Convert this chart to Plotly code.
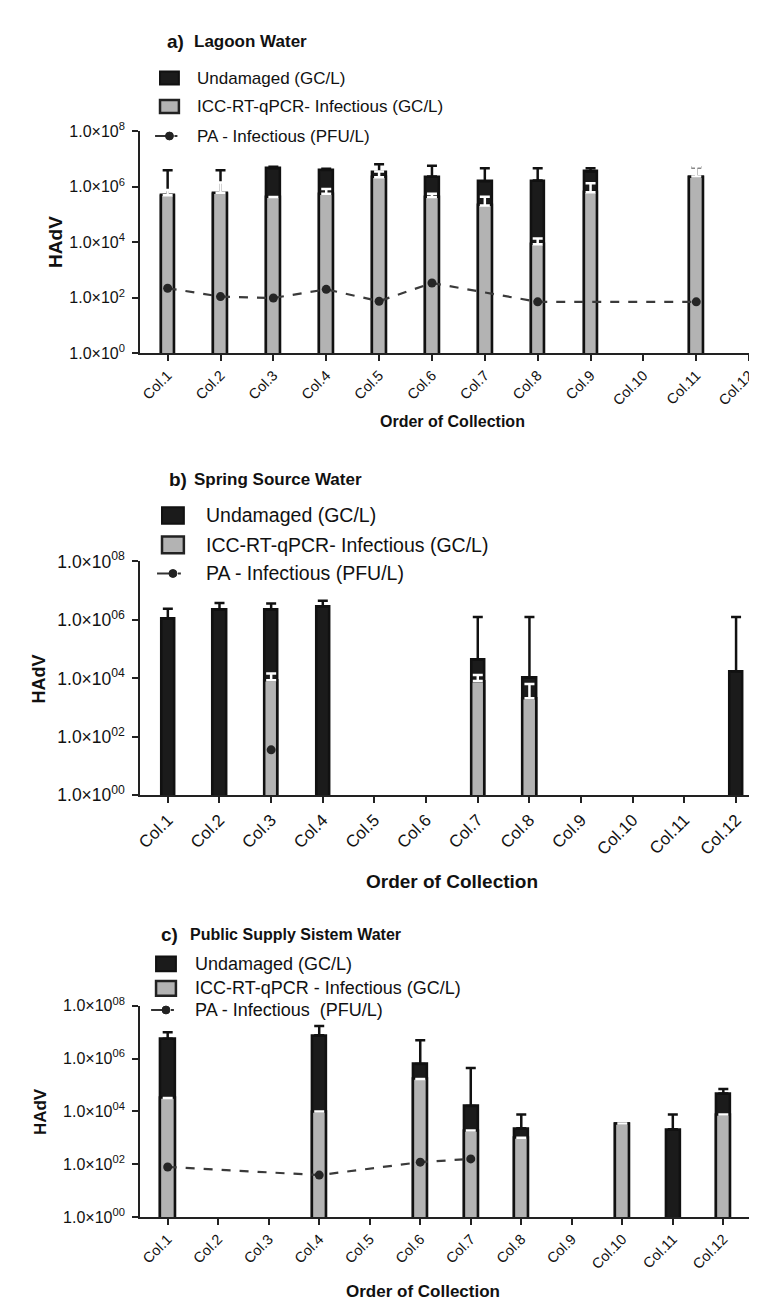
import plotly.graph_objects as go

# ---------------- data ----------------
categories = ["Col.1", "Col.2", "Col.3", "Col.4", "Col.5", "Col.6",
              "Col.7", "Col.8", "Col.9", "Col.10", "Col.11", "Col.12"]
y_tick_vals = [1, 1e2, 1e4, 1e6, 1e8]
y_tick_text_a = ["1.0×10<sup>0</sup>", "1.0×10<sup>2</sup>", "1.0×10<sup>4</sup>",
                 "1.0×10<sup>6</sup>", "1.0×10<sup>8</sup>"]
y_tick_text_bc = ["1.0×10<sup>00</sup>", "1.0×10<sup>02</sup>", "1.0×10<sup>04</sup>",
                  "1.0×10<sup>06</sup>", "1.0×10<sup>08</sup>"]

# a) Lagoon Water
a_undamaged = [4.5e5, 5.5e5, 4.6e6, 4.0e6, 3.3e6, 2.3e6, 1.56e6, 1.65e6, 3.5e6, None, 2.2e6, None]
a_undamaged_upper = [3.9e6, 3.9e6, 5.2e6, 4.4e6, 6.4e6, 5.6e6, 4.6e6, 4.6e6, 4.6e6, None, 5.0e6, None]
a_infectious = [4.9e5, 6.0e5, 4.2e5, 5.6e5, 2.2e6, 4.2e5, 2.1e5, 8.5e3, 6.3e5, None, 2.3e6, None]
a_infectious_upper = [7.5e5, 1.4e6, None, 8.3e5, 3.5e6, 5.6e5, 4.3e5, 1.35e4, 1.33e6, None, 5.3e6, None]
a_pa = [220, 110, 98, 200, 75, 340, None, 71, None, None, 71, None]

# b) Spring Source Water
b_undamaged = [1.1e6, 2.2e6, 2.2e6, 2.9e6, None, None, 4.4e4, 1.05e4, None, None, None, 1.75e4]
b_undamaged_upper = [2.4e6, 3.8e6, 3.6e6, 4.5e6, None, None, 1.25e6, 1.25e6, None, None, None, 1.25e6]
b_infectious = [None, None, 8.7e3, None, None, None, 8.1e3, 2.1e3, None, None, None, None]
b_infectious_upper = [None, None, 1.46e4, None, None, None, 1.3e4, 6.4e3, None, None, None, None]
b_pa = [None, None, 36, None, None, None, None, None, None, None, None, None]

# c) Public Supply Sistem Water
c_undamaged = [5.7e6, None, None, 7.6e6, None, 6.3e5, 1.6e4, 2.3e3, None, 3.5e3, 2.1e3, 4.8e4]
c_undamaged_upper = [1.0e7, None, None, 1.7e7, None, 4.9e6, 4.4e5, 7.6e3, None, None, 7.6e3, 7.0e4]
c_infectious = [3.2e4, None, None, 1.0e4, None, 1.7e5, 1.9e3, 1.0e3, None, 3.5e3, None, 7.6e3]
c_infectious_upper = [None] * 12
c_pa = [79, None, None, 39, None, 120, 160, None, None, None, None, None]

legend_a = ["Undamaged (GC/L)", "ICC-RT-qPCR- Infectious (GC/L)", "PA - Infectious (PFU/L)"]
legend_b = ["Undamaged (GC/L)", "ICC-RT-qPCR- Infectious (GC/L)", "PA - Infectious (PFU/L)"]
legend_c = ["Undamaged (GC/L)", "ICC-RT-qPCR - Infectious (GC/L)", "PA - Infectious  (PFU/L)"]

# ---------------- layout helpers ----------------
W, H = 757, 1302
FONT = "Arial, Liberation Sans, Helvetica, sans-serif"
BLACK = "#1b1b1b"
GRAY = "#b3b3b3"
AX = "#222222"


def fx(px):
    return px / W


def fy(py):
    return 1 - py / H


def plus(vals, uppers):
    return [(u - v) if (u is not None and v is not None) else None for v, u in zip(vals, uppers)]


panels = [
    dict(key="", und=a_undamaged, und_up=a_undamaged_upper, inf=a_infectious, inf_up=a_infectious_upper,
         pa=a_pa, xdom=(128, 757), xr=(-0.52, 11.3), ytop=113, ybot=339, ticktext=y_tick_text_a,
         ytf=16, xtf=14.5, bw=0.26,
         title=("a)", "Lagoon Water", 153, 180, 22, 19, 17),
         legend=legend_a, leg=dict(sx0=148, sx1=167, rows=(59, 88, 118), tx=183, fs=17, sh=13),
         ytitle=(42, 226, 19), xtitle=(442, 408, 16)),
    dict(key="2", und=b_undamaged, und_up=b_undamaged_upper, inf=b_infectious, inf_up=b_infectious_upper,
         pa=b_pa, xdom=(128.3, 757), xr=(-0.53, 11.56), ytop=550.7, ybot=788.7, ticktext=y_tick_text_bc,
         ytf=17.5, xtf=17, bw=0.26,
         title=("b)", "Spring Source Water", 155, 180, 467, 19, 17),
         legend=legend_b, leg=dict(sx0=150, sx1=172, rows=(504, 534, 563), tx=192, fs=19.5, sh=17),
         ytitle=(26, 670, 18), xtitle=(442, 876, 19)),
    dict(key="3", und=c_undamaged, und_up=c_undamaged_upper, inf=c_infectious, inf_up=c_infectious_upper,
         pa=c_pa, xdom=(128, 742), xr=(-0.545, 11.53), ytop=1002.7, ybot=1217.7, ticktext=y_tick_text_bc,
         ytf=16, xtf=14.5, bw=0.28,
         title=("c)", "Public Supply Sistem Water", 147, 176, 930, 19, 16),
         legend=legend_c, leg=dict(sx0=144, sx1=164, rows=(960, 985, 1007), tx=181, fs=18, sh=15),
         ytitle=(27, 1110, 17), xtitle=(413, 1293, 17)),
]

fig = go.Figure()
shapes = []
annotations = []

for p in panels:
    k = p["key"]
    xa = "x" + k
    ya = "y" + k
    fig.add_trace(go.Bar(
        x=categories, y=p["und"], xaxis=xa, yaxis=ya, width=p["bw"],
        marker=dict(color=BLACK, line=dict(color="#111111", width=2.5)),
        error_y=dict(type="data", array=plus(p["und"], p["und_up"]), arrayminus=[0] * 12,
                     symmetric=False, color="#111111", thickness=2.5, width=5),
        showlegend=False, name=p["legend"][0]))
    fig.add_trace(go.Bar(
        x=categories, y=p["inf"], xaxis=xa, yaxis=ya, width=p["bw"],
        marker=dict(color=GRAY, line=dict(color="#111111", width=2.5)),
        error_y=dict(type="data", array=plus(p["inf"], p["inf_up"]), arrayminus=[0] * 12,
                     symmetric=False, color="#ffffff", thickness=2.5, width=5),
        showlegend=False, name=p["legend"][1]))
    fig.add_trace(go.Scatter(
        x=categories, y=p["pa"], xaxis=xa, yaxis=ya, mode="lines+markers", connectgaps=True,
        line=dict(color="#3a3a3a", width=2.2, dash="dash"),
        marker=dict(color="#262626", size=9),
        showlegend=False, name=p["legend"][2]))

    xname = "xaxis" + k
    yname = "yaxis" + k
    fig.update_layout(**{
        xname: dict(domain=[fx(p["xdom"][0]), fx(p["xdom"][1])], anchor=ya, type="category",
                    categoryorder="array", categoryarray=categories, range=list(p["xr"]),
                    showline=True, linecolor=AX, linewidth=2, ticks="outside", ticklen=6,
                    tickwidth=2, tickcolor=AX, tickangle=-45, showgrid=False, zeroline=False,
                    tickfont=dict(family=FONT, size=p["xtf"], color="#111")),
        yname: dict(domain=[fy(p["ybot"]), fy(p["ytop"])], anchor=xa, type="log", range=[0, 8],
                    showline=True, linecolor=AX, linewidth=2, ticks="outside", ticklen=6,
                    tickwidth=2, tickcolor=AX, showgrid=False, zeroline=False,
                    tickvals=y_tick_vals, ticktext=p["ticktext"], ticklabelstandoff=4,
                    tickfont=dict(family=FONT, size=p["ytf"], color="#111")),
    })

    # title
    t = p["title"]
    annotations.append(dict(x=fx(t[2]), y=fy(t[4]), xref="paper", yref="paper", xanchor="left",
                            yanchor="middle", showarrow=False, text="<b>" + t[0] + "</b>",
                            font=dict(family=FONT, size=t[5], color="#111")))
    annotations.append(dict(x=fx(t[3]), y=fy(t[4]), xref="paper", yref="paper", xanchor="left",
                            yanchor="middle", showarrow=False, text="<b>" + t[1] + "</b>",
                            font=dict(family=FONT, size=t[6], color="#111")))
    # legend
    lg = p["leg"]
    r1, r2, r3 = lg["rows"]
    hh = lg["sh"] / 2
    shapes.append(dict(type="rect", xref="paper", yref="paper", x0=fx(lg["sx0"]), x1=fx(lg["sx1"]),
                       y0=fy(r1 + hh), y1=fy(r1 - hh), fillcolor=BLACK, line=dict(color="#111", width=2)))
    shapes.append(dict(type="rect", xref="paper", yref="paper", x0=fx(lg["sx0"]), x1=fx(lg["sx1"]),
                       y0=fy(r2 + hh), y1=fy(r2 - hh), fillcolor=GRAY, line=dict(color="#222", width=2.5)))
    xm = (lg["sx0"] + lg["sx1"]) / 2
    shapes.append(dict(type="line", xref="paper", yref="paper", x0=fx(lg["sx0"] - 5), x1=fx(xm),
                       y0=fy(r3), y1=fy(r3), line=dict(color="#333", width=2)))
    shapes.append(dict(type="line", xref="paper", yref="paper", x0=fx(xm + 5), x1=fx(xm + 8),
                       y0=fy(r3), y1=fy(r3), line=dict(color="#333", width=2)))
    shapes.append(dict(type="circle", xref="paper", yref="paper", x0=fx(xm - 4), x1=fx(xm + 4),
                       y0=fy(r3 + 4), y1=fy(r3 - 4), fillcolor="#222", line=dict(color="#222", width=1)))
    for txt, ry in zip(p["legend"], lg["rows"]):
        annotations.append(dict(x=fx(lg["tx"]), y=fy(ry), xref="paper", yref="paper", xanchor="left",
                                yanchor="middle", showarrow=False, text=txt,
                                font=dict(family=FONT, size=lg["fs"], color="#111")))
    # axis titles
    yt = p["ytitle"]
    annotations.append(dict(x=fx(yt[0]), y=fy(yt[1]), xref="paper", yref="paper", xanchor="center",
                            yanchor="middle", showarrow=False, text="<b>HAdV</b>", textangle=-90,
                            font=dict(family=FONT, size=yt[2], color="#111")))
    xt = p["xtitle"]
    annotations.append(dict(x=fx(xt[0]), y=fy(xt[1]), xref="paper", yref="paper", xanchor="center",
                            yanchor="middle", showarrow=False, text="<b>Order of Collection</b>",
                            font=dict(family=FONT, size=xt[2], color="#111")))

fig.update_layout(
    width=W, height=H, autosize=False,
    margin=dict(l=0, r=0, t=0, b=0),
    paper_bgcolor="white", plot_bgcolor="white",
    barmode="overlay", bargap=0,
    showlegend=False,
    shapes=shapes, annotations=annotations,
    font=dict(family=FONT, color="#111"),
)

fig.write_html("out.html")
